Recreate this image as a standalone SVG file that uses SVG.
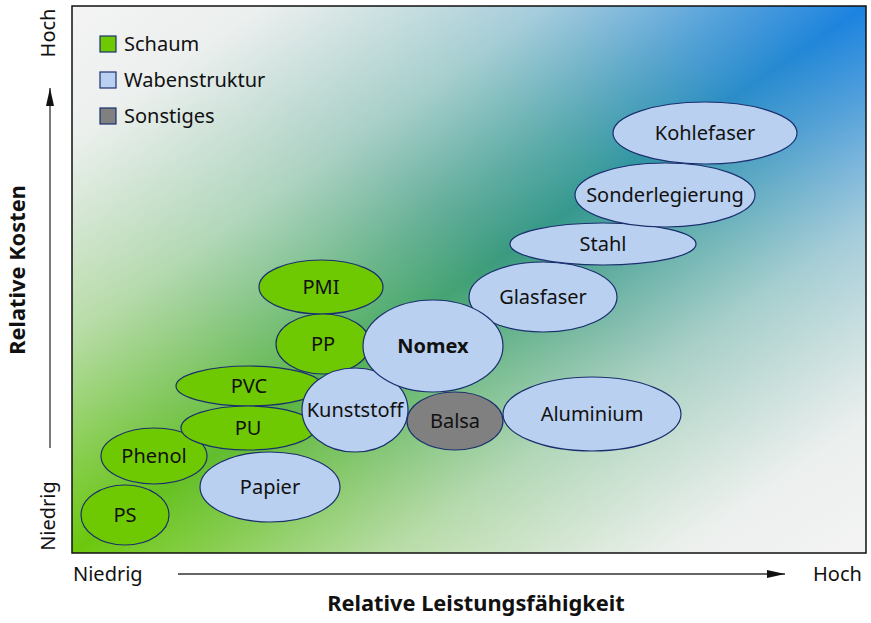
<svg xmlns="http://www.w3.org/2000/svg" width="871" height="623" viewBox="0 0 871 623">
<style>
text{font-family:"Noto Sans","Open Sans","DejaVu Sans",sans-serif;font-size:20px;fill:#111}
.lbl{text-anchor:middle}
.b{font-weight:bold}
.ax{font-size:21.8px}
.foam{fill:#6ec902;stroke:#1b2f6e;stroke-width:1.2}
.honey{fill:#b9d0f0;stroke:#1b2f6e;stroke-width:1.2}
.other{fill:#808080;stroke:#1b2f6e;stroke-width:1.2}
.axis{stroke:#333;stroke-width:1.3;fill:none}
</style>
<defs>
<linearGradient id="base" x1="0" y1="1" x2="1" y2="0">
<stop offset="0" stop-color="#6dc90a"/>
<stop offset="0.25" stop-color="#5eb83c"/>
<stop offset="0.42" stop-color="#4caa6a"/>
<stop offset="0.55" stop-color="#3a9a80"/>
<stop offset="0.68" stop-color="#339898"/>
<stop offset="0.85" stop-color="#2a8ccc"/>
<stop offset="1" stop-color="#1a82e2"/>
</linearGradient>
<linearGradient id="fade" x1="0" y1="0" x2="1" y2="1">
<stop offset="0" stop-color="#f3f3f3" stop-opacity="1"/>
<stop offset="0.12" stop-color="#f3f3f3" stop-opacity="0.96"/>
<stop offset="0.3" stop-color="#f3f3f3" stop-opacity="0.6"/>
<stop offset="0.42" stop-color="#f3f3f3" stop-opacity="0.22"/>
<stop offset="0.5" stop-color="#f3f3f3" stop-opacity="0"/>
<stop offset="0.58" stop-color="#f3f3f3" stop-opacity="0.22"/>
<stop offset="0.7" stop-color="#f3f3f3" stop-opacity="0.6"/>
<stop offset="0.88" stop-color="#f3f3f3" stop-opacity="0.96"/>
<stop offset="1" stop-color="#f3f3f3" stop-opacity="1"/>
</linearGradient>
<marker id="ah" viewBox="0 0 18 8" refX="18" refY="4" markerWidth="18" markerHeight="8" markerUnits="userSpaceOnUse" orient="auto">
<path d="M0,0 L18,4 L0,8 Z" fill="#111"/>
</marker>
</defs>

<g id="plot">
<rect x="72" y="6" width="794" height="547" fill="url(#base)"/>
<rect x="72" y="6" width="794" height="547" fill="url(#fade)" stroke="#111" stroke-width="1.5"/>
</g>

<g id="legend">
<rect x="100" y="36" width="16" height="16" class="foam"/>
<text x="124" y="51">Schaum</text>
<rect x="100" y="72" width="16" height="16" class="honey"/>
<text x="124" y="87">Wabenstruktur</text>
<rect x="100" y="108" width="16" height="16" class="other"/>
<text x="124" y="123">Sonstiges</text>
</g>

<g id="axes">
<line x1="50" y1="448" x2="50" y2="88" class="axis" marker-end="url(#ah)"/>
<line x1="178" y1="574" x2="785" y2="574" class="axis" marker-end="url(#ah)"/>
<text transform="translate(55,33) rotate(-90)" class="lbl">Hoch</text>
<text transform="translate(55,516) rotate(-90)" class="lbl">Niedrig</text>
<text transform="translate(25,270) rotate(-90)" class="lbl b ax">Relative Kosten</text>
<text x="73" y="581">Niedrig</text>
<text x="813" y="581">Hoch</text>
<text x="476" y="611" class="lbl b ax">Relative Leistungsfähigkeit</text>
</g>

<g id="n-ps"><ellipse cx="125" cy="515" rx="44" ry="30" class="foam"/><text x="125" y="522" class="lbl">PS</text></g>
<g id="n-phenol"><ellipse cx="154" cy="456" rx="53" ry="28" class="foam"/><text x="154" y="463" class="lbl">Phenol</text></g>
<g id="n-pvc"><ellipse cx="249" cy="386" rx="73" ry="20" class="foam"/><text x="249" y="393" class="lbl">PVC</text></g>
<g id="n-pu"><ellipse cx="248" cy="428" rx="67" ry="22" class="foam"/><text x="248" y="435" class="lbl">PU</text></g>
<g id="n-papier"><ellipse cx="270" cy="487" rx="70" ry="35" class="honey"/><text x="270" y="494" class="lbl">Papier</text></g>
<g id="n-pmi"><ellipse cx="321" cy="287" rx="62" ry="27" class="foam"/><text x="321" y="294" class="lbl">PMI</text></g>
<g id="n-pp"><ellipse cx="323" cy="344" rx="47" ry="30" class="foam"/><text x="323" y="351" class="lbl">PP</text></g>
<g id="n-glasfaser"><ellipse cx="543" cy="297" rx="74" ry="35" class="honey"/><text x="543" y="304" class="lbl">Glasfaser</text></g>
<g id="n-kunststoff"><ellipse cx="355" cy="410" rx="53" ry="42" class="honey"/><text x="355" y="417" class="lbl">Kunststoff</text></g>
<g id="n-nomex"><ellipse cx="433" cy="346" rx="70" ry="46" class="honey"/><text x="433" y="353" class="lbl b">Nomex</text></g>
<g id="n-balsa"><ellipse cx="455" cy="421" rx="48" ry="29" class="other"/><text x="455" y="428" class="lbl">Balsa</text></g>
<g id="n-aluminium"><ellipse cx="592" cy="414" rx="89" ry="37" class="honey"/><text x="592" y="421" class="lbl">Aluminium</text></g>
<g id="n-stahl"><ellipse cx="603" cy="244" rx="93" ry="21" class="honey"/><text x="603" y="251" class="lbl">Stahl</text></g>
<g id="n-sonderlegierung"><ellipse cx="665" cy="195" rx="90" ry="32" class="honey"/><text x="665" y="202" class="lbl">Sonderlegierung</text></g>
<g id="n-kohlefaser"><ellipse cx="705" cy="133" rx="92" ry="31" class="honey"/><text x="705" y="140" class="lbl">Kohlefaser</text></g>

<g id="connectors"></g>
</svg>
